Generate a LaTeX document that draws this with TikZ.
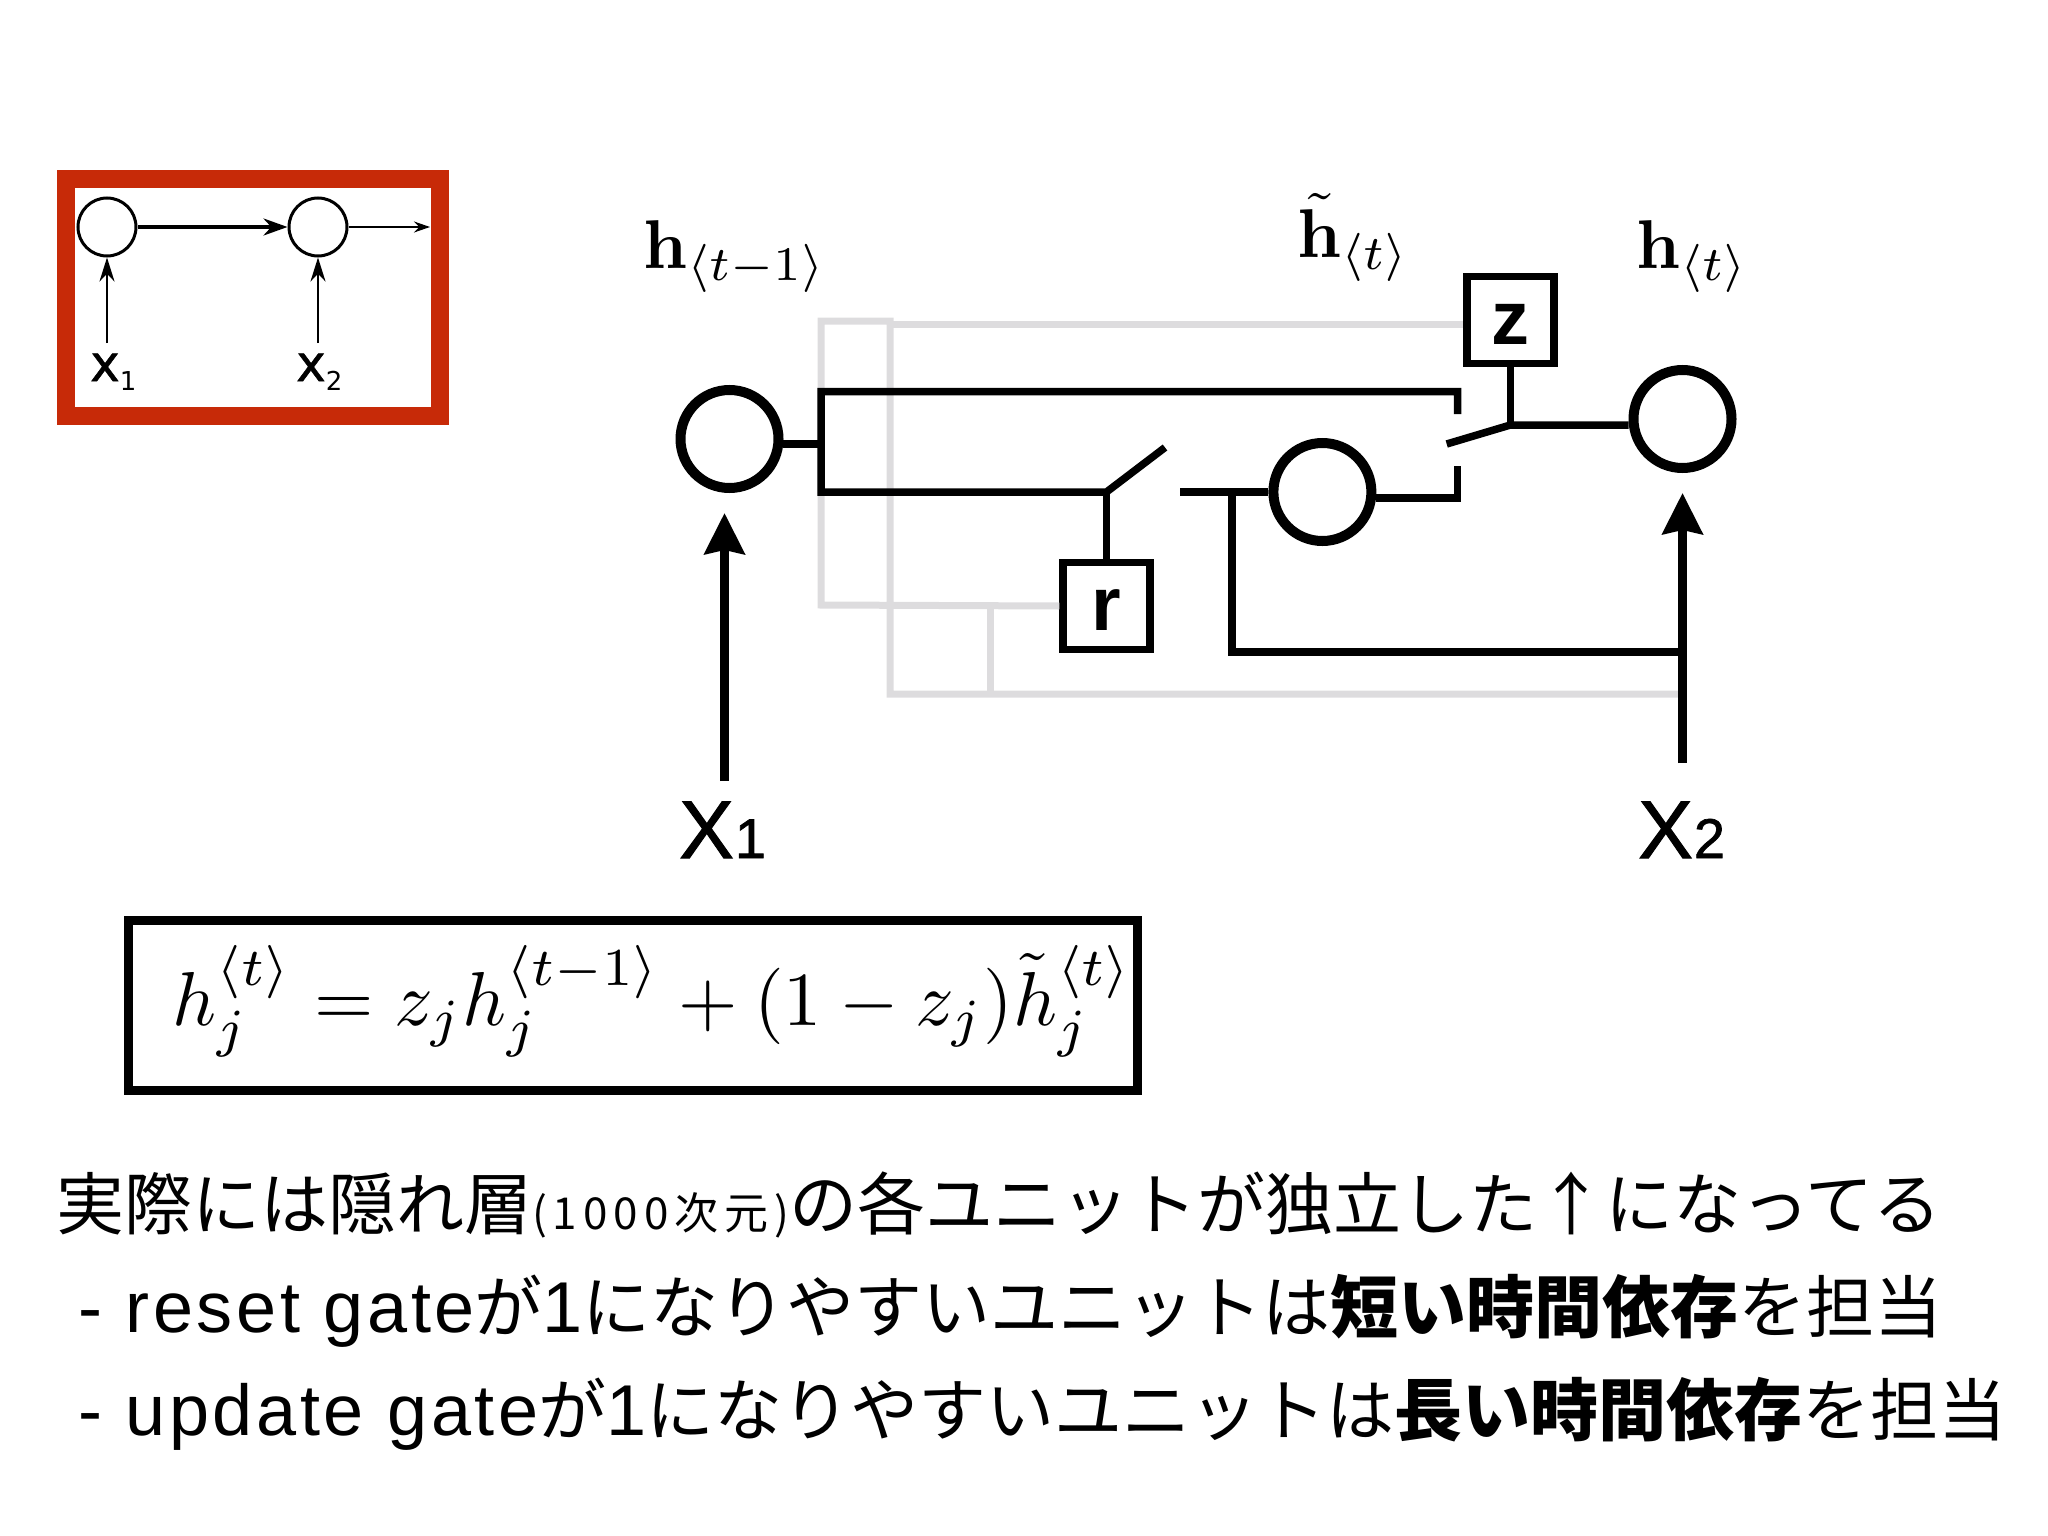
\documentclass[tikz,border=0pt]{standalone}
\usepackage{amsmath}
\usepackage{amssymb}
\usepackage[no-math]{fontspec}
\usepackage{tikz}
\usetikzlibrary{arrows.meta}
\setmainfont{Liberation Sans}
\newfontfamily\cjkfont{Noto Sans CJK JP}
\newfontfamily\dejafont{DejaVu Sans}
\newcommand{\pxfont}[1]{\fontsize{#1}{#1}\selectfont}
\newcommand{\smallx}[1]{{\dejafont\addfontfeature{FakeBold=1}\pxfont{50}x}\raisebox{-9pt}{\dejafont\pxfont{26}#1}}
\newcommand{\bigx}[1]{{\addfontfeature{FakeBold=1.2}\pxfont{82}X}\hspace{1pt}{\addfontfeature{FakeBold=1.2}\pxfont{56}#1}}
\newcommand{\lat}[1]{{\rmfamily\pxfont{72}\addfontfeature{LetterSpace=5}#1}}
\definecolor{boxred}{HTML}{C72A08}
\definecolor{wiregray}{HTML}{DDDCDE}
\tikzset{
  smallcell/.style={draw,circle,line width=3pt,minimum size=58pt,inner sep=0pt},
  bigcell/.style={draw,circle,line width=10pt,minimum size=98pt,inner sep=0pt},
  wire/.style={line width=7.5pt},
  graywire/.style={line width=7pt,wiregray},
  gatebox/.style={draw,line width=7.5pt,minimum size=87pt,inner sep=0pt,text height=49pt,font=\bfseries\pxfont{76}},
  bigarrow/.style={line width=8.5pt,-{Stealth[length=41pt,width=40pt,inset=4pt]}},
  mathlabel/.style={anchor=base west,inner sep=0pt},
  textline/.style={anchor=base west,inner sep=0pt,font=\cjkfont\pxfont{68}}
}
\begin{document}
\begin{tikzpicture}[line join=miter,x=1pt,y=-1pt]
\useasboundingbox (0,0) rectangle (2048,1536);
\node[draw=boxred,line width=18pt,minimum width=374pt,minimum height=237pt,inner sep=0pt] (redbox) at (253,297.5) {};
\node[smallcell] (cellA) at (107,227) {};
\node[smallcell] (cellB) at (318,227) {};
\node[anchor=base west,inner sep=0pt] (smallxA) at (90,381) {\smallx{1}};
\node[anchor=base west,inner sep=0pt] (smallxB) at (296,381) {\smallx{2}};
\coordinate (tailA) at (107,343);
\coordinate (tailB) at (318,343);
\coordinate (outB) at (430,227);
\draw [line width=2.6pt,-{Stealth[length=24pt,width=15pt]}] (tailA) -- (cellA.south);
\draw [line width=2.6pt,-{Stealth[length=24pt,width=15pt]}] (tailB) -- (cellB.south);
\draw [line width=3.6pt,-{Stealth[length=24pt,width=17pt]}] (cellA.east) -- (cellB.west);
\draw [line width=1.8pt,-{Stealth[length=16pt,width=11pt]}] (cellB.east) -- (outB);
\coordinate (grayTL) at (821,321);
\coordinate (grayTM) at (890,321);
\coordinate (grayBL) at (821,605);
\coordinate (grayBM) at (890,694);
\coordinate (grayJa) at (990,605);
\coordinate (grayJb) at (990,694);
\coordinate (grayEnd) at (1682.5,694);
\node[gatebox] (gateZ) at (1510.4,320) {z};
\node[gatebox] (gateR) at (1106.5,606) {r};
\draw [graywire] (gateR.west) -- (grayBL) -- (grayTL) -- (grayTM) -- (grayBM) -- (grayEnd);
\draw [graywire] (grayTM) ++(0,3) -- (gateZ.west |- 0,324);
\draw [graywire] (grayJa) -- (grayJb);
\node[bigcell] (prevH) at (729.5,439) {};
\node[bigcell] (tildeH) at (1322.4,492) {};
\node[bigcell] (curH) at (1682.5,419) {};
\coordinate (stubA) at (783,444);
\coordinate (stubB) at (821,444);
\coordinate (brTop) at (821,391.5);
\coordinate (brBot) at (821,492);
\coordinate (topEnd) at (1457.7,391.5);
\coordinate (topDrop) at (1457.7,414);
\coordinate (hingeR) at (1106.5,492);
\coordinate (openR) at (1165,447.5);
\coordinate (contactR) at (1180,492);
\coordinate (teeR) at (1232,492);
\coordinate (teeDown) at (1232,652);
\coordinate (teeEnd) at (1682.5,652);
\coordinate (outMid) at (1457.7,498);
\coordinate (outUp) at (1457.7,466);
\coordinate (openZ) at (1446.7,444);
\coordinate (hingeZ) at (1510.4,425);
\draw [wire] (stubA) -- (stubB);
\draw [wire] (topDrop) -- (topEnd) -- (brTop) -- (brBot) -- (hingeR) -- (openR);
\draw [wire] (hingeR) -- (gateR.north);
\draw [wire] (contactR) -- (tildeH.west);
\draw [wire] (teeR) -- (teeDown) -- (teeEnd);
\draw [wire] (tildeH.east |- outMid) -- (outMid) -- (outUp);
\draw [wire] (openZ) -- (hingeZ) -- (curH.west |- hingeZ);
\draw [wire] (hingeZ) -- (gateZ.south);
\node[anchor=base west,inner sep=0pt] (inA) at (679,858) {\bigx{1}};
\node[anchor=base west,inner sep=0pt] (inB) at (1638,858) {\bigx{2}};
\coordinate (inAtop) at (724.5,781);
\coordinate (inBtop) at (1682.5,763);
\coordinate (tipA) at (724.5,513);
\coordinate (tipB) at (1682.5,493);
\draw [bigarrow] (inAtop) -- (tipA);
\draw [bigarrow] (inBtop) -- (tipB);
\node[mathlabel,scale=6.9] (labPrev) at (642,268) {$\mathbf{h}_{\langle t-1\rangle}$};
\node[mathlabel,scale=6.9] (labTilde) at (1296,257.5) {$\tilde{\mathbf{h}}_{\langle t\rangle}$};
\node[mathlabel,scale=6.9] (labCur) at (1635,268) {$\mathbf{h}_{\langle t\rangle}$};
\node[draw,line width=9pt,minimum width=1009pt,minimum height=170pt,inner sep=0pt] (eqbox) at (632.5,1005) {};
\node[mathlabel,scale=7.64] (eq) at (171,1025) {$h_j^{\langle t\rangle}=z_jh_j^{\langle t-1\rangle}+(1-z_j)\tilde{h}_j^{\langle t\rangle}$};
\node[textline] (lineA) at (56,1229) {実際には隠れ層{\pxfont{44}\addfontfeature{LetterSpace=13.5}(1000次元)}の各ユニットが独立した↑になってる};
\node[textline] (lineB) at (78,1332) {\lat{- reset gate}が\lat{1}になりやすいユニットは{\bfseries 短い時間依存}を担当};
\node[textline] (lineC) at (78,1435) {\lat{- update gate}が\lat{1}になりやすいユニットは{\bfseries 長い時間依存}を担当};
\end{tikzpicture}
\end{document}
